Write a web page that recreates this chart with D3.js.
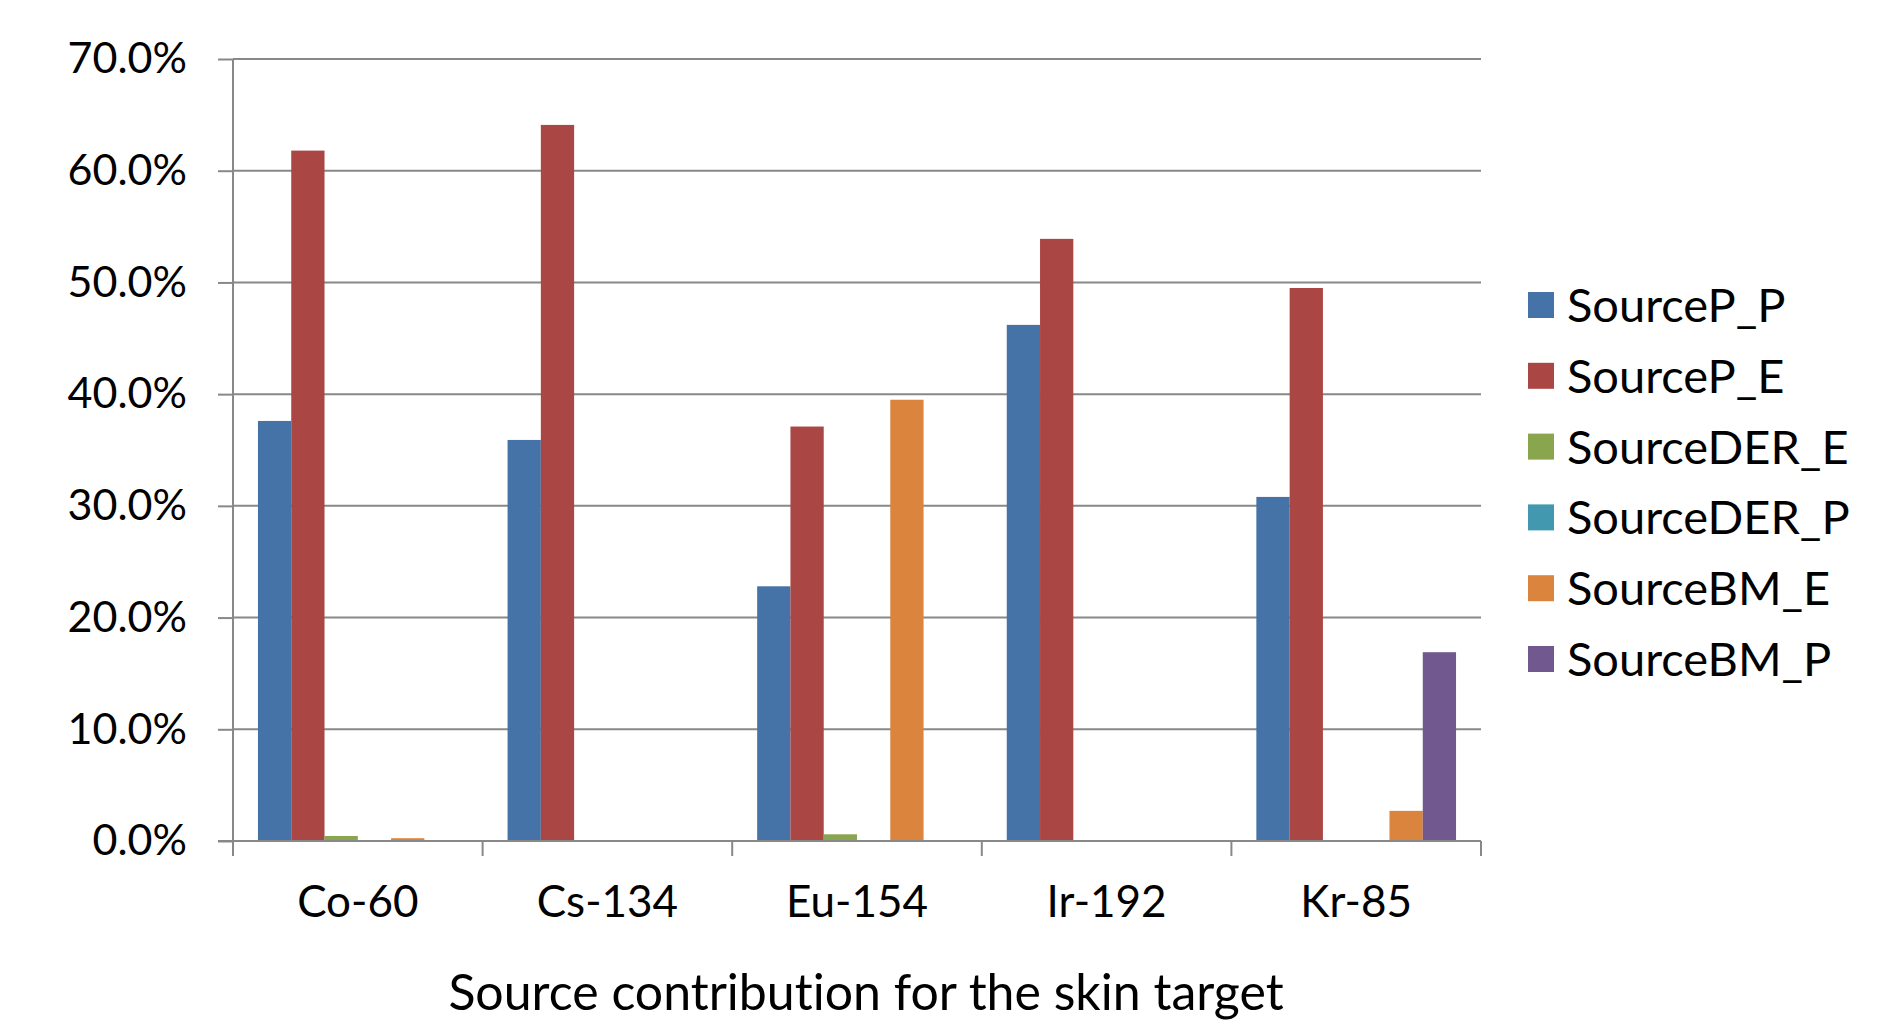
<!DOCTYPE html>
<html>
<head>
<meta charset="utf-8">
<script src="https://cdn.jsdelivr.net/npm/d3@7"></script>
<style>
  body { margin: 0; background: #fff; }
  text { font-family: Lato, "Open Sans", sans-serif; fill: #000; font-variant-ligatures: none; }
</style>
</head>
<body>
<script>
var categories = ["Co-60", "Cs-134", "Eu-154", "Ir-192", "Kr-85"];
var seriesNames = ["SourceP_P", "SourceP_E", "SourceDER_E", "SourceDER_P", "SourceBM_E", "SourceBM_P"];
var seriesColors = ["#4572A7", "#AA4643", "#89A54E", "#4198AF", "#DB843D", "#71588F"];

// percent values per isotope
var sourceP_P   = [37.6, 35.9, 22.8, 46.2, 30.8];
var sourceP_E   = [61.8, 64.1, 37.1, 53.9, 49.5];
var sourceDER_E = [0.45, 0, 0.6, 0, 0];
var sourceDER_P = [0, 0, 0, 0, 0];
var sourceBM_E  = [0.25, 0, 39.5, 0, 2.7];
var sourceBM_P  = [0, 0, 0, 0, 16.9];
var yTicks = [0, 10, 20, 30, 40, 50, 60, 70];

var seriesValues = [sourceP_P, sourceP_E, sourceDER_E, sourceDER_P, sourceBM_E, sourceBM_P];

var W = 1898, H = 1024;
var plotLeft = 233, plotRight = 1481, plotTop = 59, plotBottom = 841;

var svg = d3.select("body").append("svg")
  .attr("width", W)
  .attr("height", H);

var x = d3.scaleBand().domain(categories).range([plotLeft, plotRight])
  .paddingInner(0.2).paddingOuter(0.1);
var xs = d3.scaleBand().domain(seriesNames).range([0, x.bandwidth()]);
var y = d3.scaleLinear().domain([0, 70]).range([plotBottom, plotTop]);

// y axis labels + small ticks
var yAxis = svg.append("g")
  .attr("transform", "translate(" + plotLeft + ",0)")
  .call(d3.axisLeft(y).tickValues(yTicks).tickSize(15).tickPadding(31)
    .tickFormat(function(d) { return d.toFixed(1) + "%"; }));
yAxis.select(".domain").remove();
yAxis.selectAll(".tick line").attr("stroke", "#888").attr("stroke-width", 2);
yAxis.selectAll("text").style("font-size", "43px").attr("fill", "#000");

// gridlines
svg.append("g").selectAll("line")
  .data(yTicks)
  .enter().append("line")
  .attr("x1", plotLeft).attr("x2", plotRight)
  .attr("y1", function(d) { return y(d); })
  .attr("y2", function(d) { return y(d); })
  .attr("stroke", "#888").attr("stroke-width", 2);

// bars
var groups = svg.append("g").selectAll("g")
  .data(categories)
  .enter().append("g")
  .attr("transform", function(d) { return "translate(" + x(d) + ",0)"; });

groups.selectAll("rect")
  .data(function(d, i) {
    return seriesNames.map(function(s, j) { return { s: s, v: seriesValues[j][i], c: seriesColors[j] }; });
  })
  .enter().append("rect")
  .attr("x", function(d) { return xs(d.s); })
  .attr("width", xs.bandwidth())
  .attr("y", function(d) { return y(d.v); })
  .attr("height", function(d) { return plotBottom - y(d.v); })
  .attr("fill", function(d) { return d.c; });

// left axis line
svg.append("line")
  .attr("x1", plotLeft).attr("x2", plotLeft)
  .attr("y1", plotTop).attr("y2", plotBottom + 15)
  .attr("stroke", "#888").attr("stroke-width", 2);

// x axis: ticks between categories
var xBounds = d3.range(categories.length + 1).map(function(i) { return plotLeft + i * x.step(); });
svg.append("line")
  .attr("x1", plotLeft - 15).attr("x2", plotRight)
  .attr("y1", plotBottom).attr("y2", plotBottom)
  .attr("stroke", "#888").attr("stroke-width", 2);
svg.append("g").selectAll("line")
  .data(xBounds)
  .enter().append("line")
  .attr("x1", function(d) { return d; }).attr("x2", function(d) { return d; })
  .attr("y1", plotBottom).attr("y2", plotBottom + 15)
  .attr("stroke", "#888").attr("stroke-width", 2);

svg.append("g").selectAll("text")
  .data(categories)
  .enter().append("text")
  .attr("x", function(d) { return x(d) + x.bandwidth() / 2; })
  .attr("y", 917)
  .attr("text-anchor", "middle")
  .style("font-size", "44px")
  .text(function(d) { return d; });

svg.append("text")
  .attr("x", 866)
  .attr("y", 1010)
  .attr("text-anchor", "middle")
  .style("font-size", "50px")
  .text("Source contribution for the skin target");

// legend
var legend = svg.append("g").selectAll("g")
  .data(seriesNames)
  .enter().append("g")
  .attr("transform", function(d, i) { return "translate(1528," + (305 + i * 70.8) + ")"; });
legend.append("rect")
  .attr("x", 0).attr("y", -13)
  .attr("width", 26).attr("height", 26)
  .attr("fill", function(d, i) { return seriesColors[i]; });
legend.append("text")
  .attr("x", 39).attr("y", 17)
  .style("font-size", "47px")
  .text(function(d) { return d; });
</script>
</body>
</html>
